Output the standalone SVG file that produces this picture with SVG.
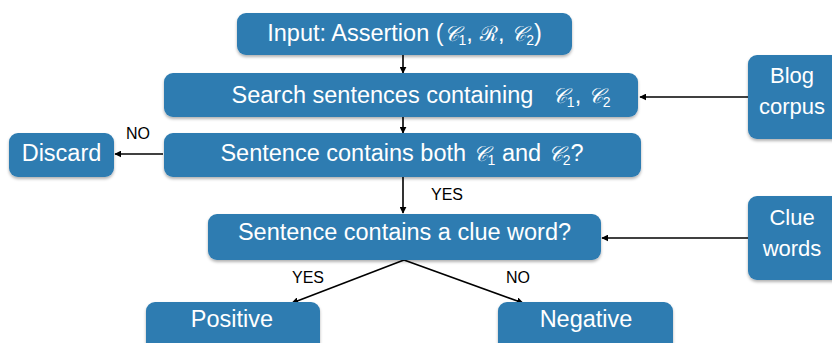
<svg xmlns="http://www.w3.org/2000/svg" width="832" height="343" viewBox="0 0 832 343">
<defs>
<marker id="ah" viewBox="0 0 10 10" refX="9" refY="5" markerWidth="7" markerHeight="7" orient="auto" markerUnits="userSpaceOnUse"><path d="M0,0 L10,5 L0,10 Z" fill="#000"/></marker>
<filter id="sh" x="-10%" y="-10%" width="120%" height="140%"><feDropShadow dx="0" dy="2" stdDeviation="1.5" flood-color="#000" flood-opacity="0.3"/></filter>
<style>
.box{fill:#2d7bb1;filter:url(#sh)}
.t{fill:#fff;font-family:"Liberation Sans",Arial,sans-serif;font-size:23.5px;text-anchor:middle}
.s{font-size:22px}
.m{font-family:"DejaVu Serif","Noto Sans",serif;font-style:italic;font-size:21px}
.l{fill:#000;font-family:"Liberation Sans",Arial,sans-serif;font-size:16px;text-anchor:middle}
.c{stroke:#000;stroke-width:1.6;fill:none;marker-end:url(#ah)}
</style>
</defs>
<rect width="832" height="343" fill="#fff"/>
<g id="connectors">
<line class="c" x1="403" y1="55" x2="403" y2="73"/>
<line class="c" x1="403" y1="117" x2="403" y2="133"/>
<line class="c" x1="163" y1="154" x2="115" y2="154"/>
<line class="c" x1="403" y1="177" x2="403" y2="213"/>
<line class="c" x1="748" y1="97" x2="640" y2="97"/>
<line class="c" x1="748" y1="238" x2="602" y2="238"/>
<line class="c" x1="404" y1="260" x2="292" y2="303"/>
<line class="c" x1="404" y1="260" x2="523" y2="303"/>
<text class="l" x="138" y="139">NO</text>
<text class="l" x="447" y="200">YES</text>
<text class="l" x="308" y="283">YES</text>
<text class="l" x="518" y="283">NO</text>
</g>
<g id="input"><rect class="box" x="237" y="13" width="335" height="42" rx="9"/>
<text class="t" x="404.5" y="41">Input: Assertion (<tspan class="m">𝒞</tspan><tspan font-size="14" dy="4">1</tspan><tspan dy="-4">, </tspan><tspan class="m">ℛ</tspan>, <tspan class="m">𝒞</tspan><tspan font-size="14" dy="4">2</tspan><tspan dy="-4">)</tspan></text></g>
<g id="search"><rect class="box" x="164" y="73" width="474" height="44" rx="9"/>
<text class="t" x="421" y="103">Search sentences containing <tspan class="m" dx="12">𝒞</tspan><tspan font-size="14" dy="4">1</tspan><tspan dy="-4">, </tspan><tspan class="m">𝒞</tspan><tspan font-size="14" dy="4">2</tspan></text></g>
<g id="both"><rect class="box" x="164" y="133" width="477" height="44" rx="9"/>
<text class="t" x="402" y="161">Sentence contains both <tspan class="m">𝒞</tspan><tspan font-size="14" dy="4">1</tspan><tspan dy="-4"> and </tspan><tspan class="m">𝒞</tspan><tspan font-size="14" dy="4">2</tspan><tspan dy="-4">?</tspan></text></g>
<g id="discard"><rect class="box" x="9" y="133" width="105" height="44" rx="9"/>
<text class="t" x="61.5" y="161">Discard</text></g>
<g id="clue"><rect class="box" x="208" y="214" width="393" height="46" rx="9"/>
<text class="t" x="404.5" y="240">Sentence contains a clue word?</text></g>
<g id="blog"><rect class="box" x="748" y="55" width="95" height="84" rx="9"/>
<text class="t s" x="792" y="83">Blog</text><text class="t s" x="792" y="114">corpus</text></g>
<g id="cluewords"><rect class="box" x="748" y="196" width="95" height="84" rx="9"/>
<text class="t s" x="792" y="225">Clue</text><text class="t s" x="792" y="256">words</text></g>
<g id="positive"><rect class="box" x="146" y="302" width="174" height="50" rx="9"/>
<text class="t" x="232" y="327">Positive</text></g>
<g id="negative"><rect class="box" x="498" y="302" width="175" height="50" rx="9"/>
<text class="t" x="586" y="327">Negative</text></g>
</svg>
